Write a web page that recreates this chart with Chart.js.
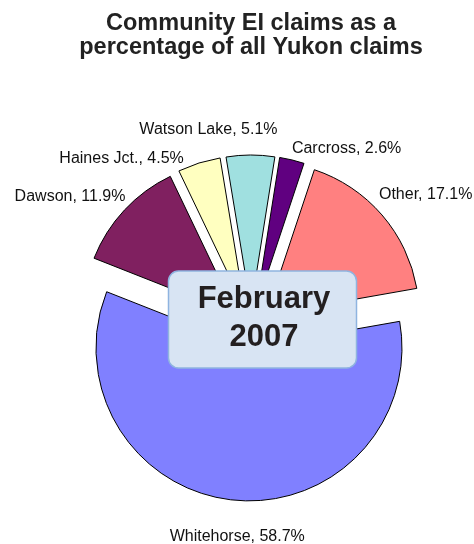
<!DOCTYPE html>
<html>
<head>
<meta charset="utf-8">
<script src="https://cdn.jsdelivr.net/npm/chart.js@4/dist/chart.umd.min.js"></script>
<style>
  html, body { margin: 0; padding: 0; background: #fff; }
  #wrap { width: 474px; height: 544px; }
</style>
</head>
<body>
<div id="wrap"><canvas id="chart" width="474" height="544"></canvas></div>
<script>
  // Data
  const categories = ['Whitehorse', 'Dawson', 'Haines Jct.', 'Watson Lake', 'Carcross', 'Other'];
  const shares = [58.7, 11.9, 4.5, 5.1, 2.6, 17.1];
  const sliceColors = ['#8080FF', '#802060', '#FFFFC0', '#A0E0E0', '#600080', '#FF8080'];
  const titleLines = ['Community EI claims as a', 'percentage of all Yukon claims'];
  const periodLines = ['February', '2007'];

  const FONT = "'Liberation Sans', Arial, Helvetica, sans-serif";

  // Exploded slices: every wedge pushed out along its own bisector
  const explodedPie = {
    id: 'explodedPie',
    beforeDatasetDraw(chart, args, opts) {
      const ctx = chart.ctx;
      const meta = chart.getDatasetMeta(args.index);
      meta.data.forEach((arc) => {
        const { x, y, startAngle, endAngle, outerRadius } =
          arc.getProps(['x', 'y', 'startAngle', 'endAngle', 'outerRadius'], true);
        const mid = (startAngle + endAngle) / 2;
        const cx = x + Math.cos(mid) * opts.distance;
        const cy = y + Math.sin(mid) * opts.distance;
        ctx.save();
        ctx.beginPath();
        ctx.moveTo(cx, cy);
        ctx.arc(cx, cy, outerRadius, startAngle, endAngle);
        ctx.closePath();
        ctx.fillStyle = arc.options.backgroundColor;
        ctx.fill();
        ctx.lineWidth = arc.options.borderWidth;
        ctx.strokeStyle = arc.options.borderColor;
        ctx.lineJoin = 'miter';
        ctx.stroke();
        ctx.restore();
      });
      return false;
    }
  };

  // "Name, xx.x%" labels outside each slice
  const sliceLabels = {
    id: 'sliceLabels',
    afterDatasetsDraw(chart, args, opts) {
      const ctx = chart.ctx;
      const meta = chart.getDatasetMeta(0);
      ctx.save();
      ctx.font = opts.size + 'px ' + FONT;
      ctx.fillStyle = opts.color;
      meta.data.forEach((arc, i) => {
        const { x, y, startAngle, endAngle, outerRadius } =
          arc.getProps(['x', 'y', 'startAngle', 'endAngle', 'outerRadius'], true);
        const mid = (startAngle + endAngle) / 2;
        const d = outerRadius + opts.explode + opts.gap;
        const cos = Math.cos(mid), sin = Math.sin(mid);
        const nudge = opts.nudge[categories[i]] || [0, 0];
        ctx.textAlign = Math.abs(cos) < 0.15 ? 'center' : (cos > 0 ? 'left' : 'right');
        ctx.textBaseline = sin < 0 ? 'bottom' : 'top';
        const text = categories[i] + ', ' + shares[i].toFixed(1) + '%';
        ctx.fillText(text, x + cos * d + nudge[0], y + sin * d + nudge[1]);
      });
      ctx.restore();
    }
  };

  // Rounded call-out box with the period
  const periodBox = {
    id: 'periodBox',
    afterDraw(chart, args, opts) {
      const ctx = chart.ctx;
      const a = chart.chartArea;
      const cx = (a.left + a.right) / 2 + opts.dx;
      const cy = (a.top + a.bottom) / 2 + opts.dy;
      const w = opts.width, h = opts.height;
      ctx.save();
      ctx.beginPath();
      ctx.roundRect(cx - w / 2, cy - h / 2, w, h, opts.radius);
      ctx.fillStyle = opts.fill;
      ctx.fill();
      ctx.lineWidth = 1.5;
      ctx.strokeStyle = opts.border;
      ctx.stroke();
      ctx.font = 'bold ' + opts.size + 'px ' + FONT;
      ctx.fillStyle = opts.color;
      ctx.textAlign = 'center';
      ctx.textBaseline = 'middle';
      periodLines.forEach((line, i) => {
        ctx.fillText(line, cx + 1.5, cy + (i - 0.5) * opts.lineGap - 1);
      });
      ctx.restore();
    }
  };

  new Chart(document.getElementById('chart'), {
    type: 'pie',
    data: {
      labels: categories,
      datasets: [{
        data: shares,
        backgroundColor: sliceColors,
        borderColor: '#000000',
        borderWidth: 1,
      }],
    },
    plugins: [explodedPie, sliceLabels, periodBox],
    options: {
      responsive: false,
      animation: false,
      events: [],
      rotation: 80,
      radius: 153,
      layout: { padding: { left: 28, right: 0, top: 0, bottom: 0 } },
      plugins: {
        legend: { display: false },
        tooltip: { enabled: false },
        title: {
          display: true,
          text: titleLines,
          color: '#222222',
          font: { family: FONT, size: 23.5, weight: 'bold', lineHeight: 1.0 },
          padding: { top: 12, bottom: 53 },
        },
        explodedPie: { distance: 20 },
        sliceLabels: {
          size: 16,
          color: '#111111',
          explode: 20,
          gap: 4,
          nudge: {
            'Whitehorse': [4, 24],
            'Dawson': [4, -3],
            'Haines Jct.': [-14, 7],
            'Watson Lake': [-42, -13],
            'Carcross': [-1, 1],
            'Other': [-6, -10],
          },
        },
        periodBox: {
          dx: 11.5, dy: -8.5, width: 188, height: 97, radius: 10,
          fill: '#D8E4F3', border: '#8FB4E0', color: '#231F20',
          size: 31, lineGap: 38.3,
        },
      },
    },
  });
</script>
</body>
</html>
